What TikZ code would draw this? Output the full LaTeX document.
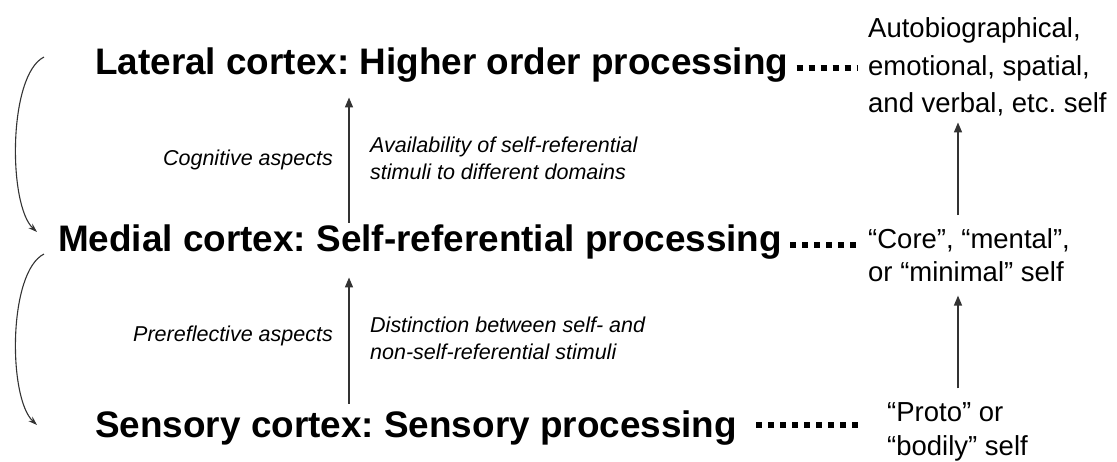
\documentclass[tikz,border=0pt]{standalone}
\usepackage{fontspec}
\setmainfont{Liberation Sans}
\usetikzlibrary{arrows.meta}
\frenchspacing
\tikzset{
  title/.style={font=\fontsize{36.9}{42}\selectfont\bfseries, inner sep=0pt, anchor=west},
  selfbox/.style={font=\fontsize{27.5}{33}\selectfont, inner sep=0pt, align=left},
  note/.style={font=\fontsize{21.5}{27}\selectfont\itshape, inner sep=0pt, align=left},
  arr/.style={line width=1.4pt, draw=black!80, -{Triangle[length=10pt,width=8pt]}},
  curve/.style={line width=1.1pt, draw=black!80, -{Stealth[length=9pt,width=6pt]}},
  dotline/.style={line width=6pt, dash pattern=on 6pt off 6pt}
}
\begin{document}
\begin{tikzpicture}[x=1pt,y=1pt]
\useasboundingbox (0,0) rectangle (1117,-461);
% titles
\node[title] (L1) at (95,-65) {Lateral cortex: Higher order processing};
\node[title] (L2) at (58,-242) {Medial cortex: Self-referential processing};
\node[title] (L3) at (95,-428) {Sensory cortex: Sensory processing};
% right column
\node[selfbox, anchor=west] (R1) at (868,-67) {Autobiographical,\\[4.5pt]emotional, spatial,\\[4.5pt]and verbal, etc. self};
\node[selfbox, anchor=north west] (R2) at (868,-228) {``Core'', ``mental'',\\or ``minimal'' self};
\node[selfbox, anchor=west] (R3) at (887,-432) {``Proto'' or\\[1pt]``bodily'' self};
% notes
\node[note, anchor=east] (C1) at (333,-160) {Cognitive aspects};
\node[note, anchor=west] (D1) at (370,-158) {Availability of self-referential\\stimuli to different domains};
\node[note, anchor=east] (C2) at (333,-336) {Prereflective aspects};
\node[note, anchor=west] (D2) at (370,-338) {Distinction between self- and\\non-self-referential stimuli};
% dotted links
\draw[dotline] ([xshift=8pt]L1.east |- 0,-68) -- ([xshift=-10pt]R1.west |- 0,-68);
\draw[dotline] ([xshift=8pt]L2.east |- 0,-245) -- ([xshift=-10pt]R2.west |- 0,-245);
\draw[dotline] ([xshift=19pt]L3.east |- 0,-425) -- ([xshift=-28pt]R3.west |- 0,-425);
% vertical arrows middle
\coordinate (xm) at (349,0);
\draw[arr] ([yshift=2]xm |- L2.north) -- ([yshift=-15]xm |- L1.south);
\draw[arr] ([yshift=7]xm |- L3.north) -- ([yshift=-18]xm |- L2.south);
% vertical arrows right
\coordinate (xr) at (958,0);
\draw[arr] ([yshift=13]xr |- R2.north) -- ([yshift=-6]xr |- R1.south);
\draw[arr] ([yshift=14]xr |- R3.north) -- ([yshift=-14]xr |- R2.south);
% left curves
\coordinate (a1) at (44,-57);
\coordinate (a2) at (37,-232);
\coordinate (b1) at (44,-254);
\coordinate (b2) at (37,-425);
\draw[curve] (a1) .. controls (8,-75) and (8,-205) .. (a2);
\draw[curve] (b1) .. controls (8,-272) and (8,-398) .. (b2);
\end{tikzpicture}
\end{document}
